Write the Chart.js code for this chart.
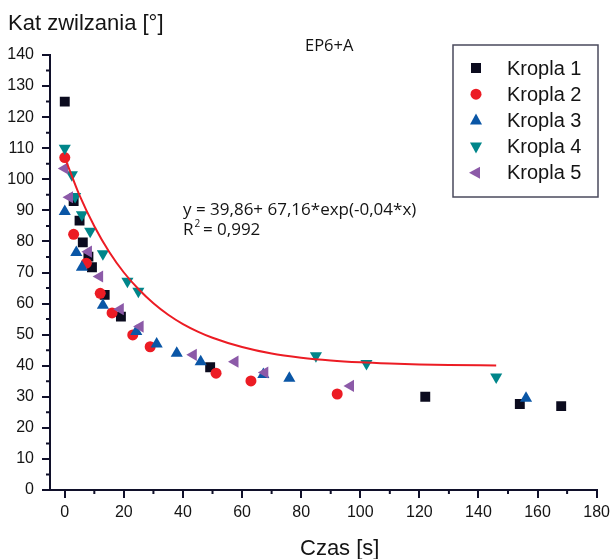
<!DOCTYPE html>
<html>
<head>
<meta charset="utf-8">
<title>EP6+A</title>
<script src="https://cdn.jsdelivr.net/npm/chart.js"></script>
<style>
  body { margin: 0; background: #fff; }
  #wrap { width: 615px; height: 559px; }
</style>
</head>
<body>
<div id="wrap"><canvas id="chart" width="615" height="559"></canvas></div>
<script>
// czas [s] i kat zwilzania [deg]
var k1x = [0, 3, 5, 6.1, 8, 9.2, 13.5, 19, 49.2, 122, 154, 168];
var k1y = [125, 93, 86.7, 79.7, 75.1, 71.7, 62.8, 55.8, 39.5, 30, 27.7, 27];

var k2x = [0, 3, 7.3, 12, 16, 23, 28.9, 51.2, 63, 92.2];
var k2y = [107, 82.3, 73, 63.3, 57, 49.9, 46.1, 37.6, 35.1, 30.9];

var k3x = [0, 3.9, 5.8, 12.9, 24.2, 31.1, 37.9, 46, 67.2, 76, 156.1];
var k3y = [89.6, 76.4, 71.7, 59.5, 51, 47, 44, 41.3, 37.2, 36, 29.5];

var k4x = [0, 2.4, 3.5, 5.8, 8.6, 12.9, 21.2, 24.9, 85, 102.1, 146];
var k4y = [110, 101.5, 94.5, 88.6, 83.3, 76, 67.2, 64, 43.2, 40.7, 36.4];

var k5x = [0, 1.6, 8, 11.8, 18.8, 25.5, 43.5, 57.6, 67.7, 96.7];
var k5y = [103.5, 94.2, 76.7, 68.7, 58.2, 52.6, 43.5, 41.3, 37.8, 33.5];

// krzywa dopasowania
var fitX = [0.5, 5, 10, 15, 20, 25, 30, 35, 40, 45, 50, 60, 70, 80, 90, 100, 110, 120, 130, 146];
var fitY = [105.8, 94.8, 84.9, 76.7, 70.0, 64.6, 60.1, 56.4, 53.4, 51.0, 49.0, 46.0, 43.9, 42.6, 41.7, 41.1, 40.7, 40.4, 40.2, 40.1];

var serie = ['Kropla 1', 'Kropla 2', 'Kropla 3', 'Kropla 4', 'Kropla 5'];
var kolory = ['#0b0b1e', '#ec1c24', '#0a56a6', '#00868a', '#8c5aa8'];
var xTicks = [0, 20, 40, 60, 80, 100, 120, 140, 160, 180];
var yTicks = [0, 10, 20, 30, 40, 50, 60, 70, 80, 90, 100, 110, 120, 130, 140];

var axisColor = '#10102a';
var textColor = '#141414';

function pts(xs, ys) {
  return xs.map(function (x, i) { return { x: x, y: ys[i] }; });
}

function marker(ctx, style, x, y, color) {
  ctx.save();
  ctx.fillStyle = color;
  ctx.beginPath();
  if (style === 'rect') {
    ctx.rect(x - 5, y - 5, 10, 10);
  } else if (style === 'circle') {
    ctx.arc(x, y, 5.5, 0, Math.PI * 2);
  } else if (style === 'up') {
    ctx.moveTo(x, y - 7); ctx.lineTo(x + 6, y + 4); ctx.lineTo(x - 6, y + 4);
  } else if (style === 'down') {
    ctx.moveTo(x, y + 7); ctx.lineTo(x + 6, y - 4); ctx.lineTo(x - 6, y - 4);
  } else {
    ctx.moveTo(x - 7, y); ctx.lineTo(x + 4, y - 6); ctx.lineTo(x + 4, y + 6);
  }
  ctx.closePath();
  ctx.fill();
  ctx.restore();
}

var extras = {
  id: 'extras',
  afterDraw: function (chart) {
    var ctx = chart.ctx;
    var xs = chart.scales.x, ys = chart.scales.y;
    var area = chart.chartArea;
    ctx.save();

    // drobne kreski podzialki
    ctx.strokeStyle = axisColor;
    ctx.lineWidth = 2;
    ctx.beginPath();
    for (var v = 10; v < 180; v += 20) {
      var px = xs.getPixelForValue(v);
      ctx.moveTo(px, area.bottom); ctx.lineTo(px, area.bottom + 4);
    }
    for (var w = 5; w < 140; w += 10) {
      var py = ys.getPixelForValue(w);
      ctx.moveTo(area.left - 4, py); ctx.lineTo(area.left, py);
    }
    ctx.stroke();

    // tytuly osi
    ctx.fillStyle = textColor;
    ctx.textBaseline = 'alphabetic';
    ctx.textAlign = 'left';
    ctx.font = '22px "Liberation Sans", Arial, sans-serif';
    ctx.fillText('Kat zwilzania [°]', 8, 30);
    ctx.fillText('Czas [s]', 300, 555);

    ctx.font = '16.5px "Open Sans", sans-serif';
    ctx.fillText('EP6+A', 305, 51);

    // rownanie dopasowania
    ctx.font = '17px "Open Sans", sans-serif';
    ctx.fillText('y = 39,86+ 67,16*exp(-0,04*x)', 183, 215);
    ctx.fillText('R', 183, 235);
    var rw = ctx.measureText('R').width;
    ctx.font = '10px "Open Sans", sans-serif';
    ctx.fillText('2', 183 + rw + 1, 227);
    ctx.font = '17px "Open Sans", sans-serif';
    ctx.fillText(' = 0,992', 183 + rw + 5, 235);

    // legenda
    ctx.strokeStyle = '#4a4a5c';
    ctx.lineWidth = 1.5;
    ctx.strokeRect(453, 45, 145, 152);
    var styles = ['rect', 'circle', 'up', 'down', 'left'];
    ctx.font = '20px "Liberation Sans", Arial, sans-serif';
    ctx.textBaseline = 'middle';
    for (var i = 0; i < serie.length; i++) {
      var ly = 68 + i * 26.2;
      marker(ctx, styles[i], 476, ly, kolory[i]);
      ctx.fillStyle = textColor;
      ctx.fillText(serie[i], 507, ly + 1);
    }
    ctx.restore();
  }
};

var ctx = document.getElementById('chart');
var myChart = new Chart(ctx, {
  type: 'scatter',
  data: {
    datasets: [
      {
        label: 'fit',
        data: pts(fitX, fitY),
        showLine: true,
        borderColor: '#ec1c24',
        borderWidth: 2,
        pointRadius: 0,
        cubicInterpolationMode: 'monotone',
        fill: false
      },
      { label: serie[4], data: pts(k5x, k5y), backgroundColor: kolory[4], borderWidth: 0, pointStyle: 'triangle', pointRotation: -90, pointRadius: 7 },
      { label: serie[3], data: pts(k4x, k4y), backgroundColor: kolory[3], borderWidth: 0, pointStyle: 'triangle', pointRotation: 180, pointRadius: 7 },
      { label: serie[2], data: pts(k3x, k3y), backgroundColor: kolory[2], borderWidth: 0, pointStyle: 'triangle', pointRadius: 7 },
      { label: serie[1], data: pts(k2x, k2y), backgroundColor: kolory[1], borderWidth: 0, pointStyle: 'circle', pointRadius: 5.5 },
      { label: serie[0], data: pts(k1x, k1y), backgroundColor: kolory[0], borderWidth: 0, pointStyle: 'rect', pointRadius: 7 }
    ]
  },
  options: {
    responsive: false,
    animation: false,
    layout: { padding: { top: 55, right: 18, left: 0, bottom: 0 } },
    plugins: {
      legend: { display: false },
      tooltip: { enabled: false }
    },
    scales: {
      x: {
        type: 'linear',
        min: -5,
        max: 180,
        afterFit: function (s) { s.height = 69; },
        border: { display: true, color: axisColor, width: 2 },
        grid: {
          drawOnChartArea: false,
          tickLength: 8,
          lineWidth: 2,
          tickColor: function (c) {
            return c.tick && xTicks.indexOf(c.tick.value) >= 0 ? axisColor : 'rgba(0,0,0,0)';
          }
        },
        ticks: {
          stepSize: 10,
          includeBounds: false,
          autoSkip: false,
          maxRotation: 0,
          padding: 5,
          color: textColor,
          font: { family: '"Liberation Sans", Arial, sans-serif', size: 16 },
          callback: function (v) { return xTicks.indexOf(v) >= 0 ? String(v) : ''; }
        }
      },
      y: {
        type: 'linear',
        min: 0,
        max: 140,
        afterFit: function (s) { s.width = 50; },
        border: { display: true, color: axisColor, width: 2 },
        grid: {
          drawOnChartArea: false,
          tickLength: 8,
          lineWidth: 2,
          tickColor: function (c) {
            return c.tick && yTicks.indexOf(c.tick.value) >= 0 ? axisColor : 'rgba(0,0,0,0)';
          }
        },
        ticks: {
          stepSize: 5,
          autoSkip: false,
          padding: 8,
          color: textColor,
          font: { family: '"Liberation Sans", Arial, sans-serif', size: 16 },
          callback: function (v) { return yTicks.indexOf(v) >= 0 ? String(v) : ''; }
        }
      }
    }
  },
  plugins: [extras]
});
</script>
</body>
</html>
